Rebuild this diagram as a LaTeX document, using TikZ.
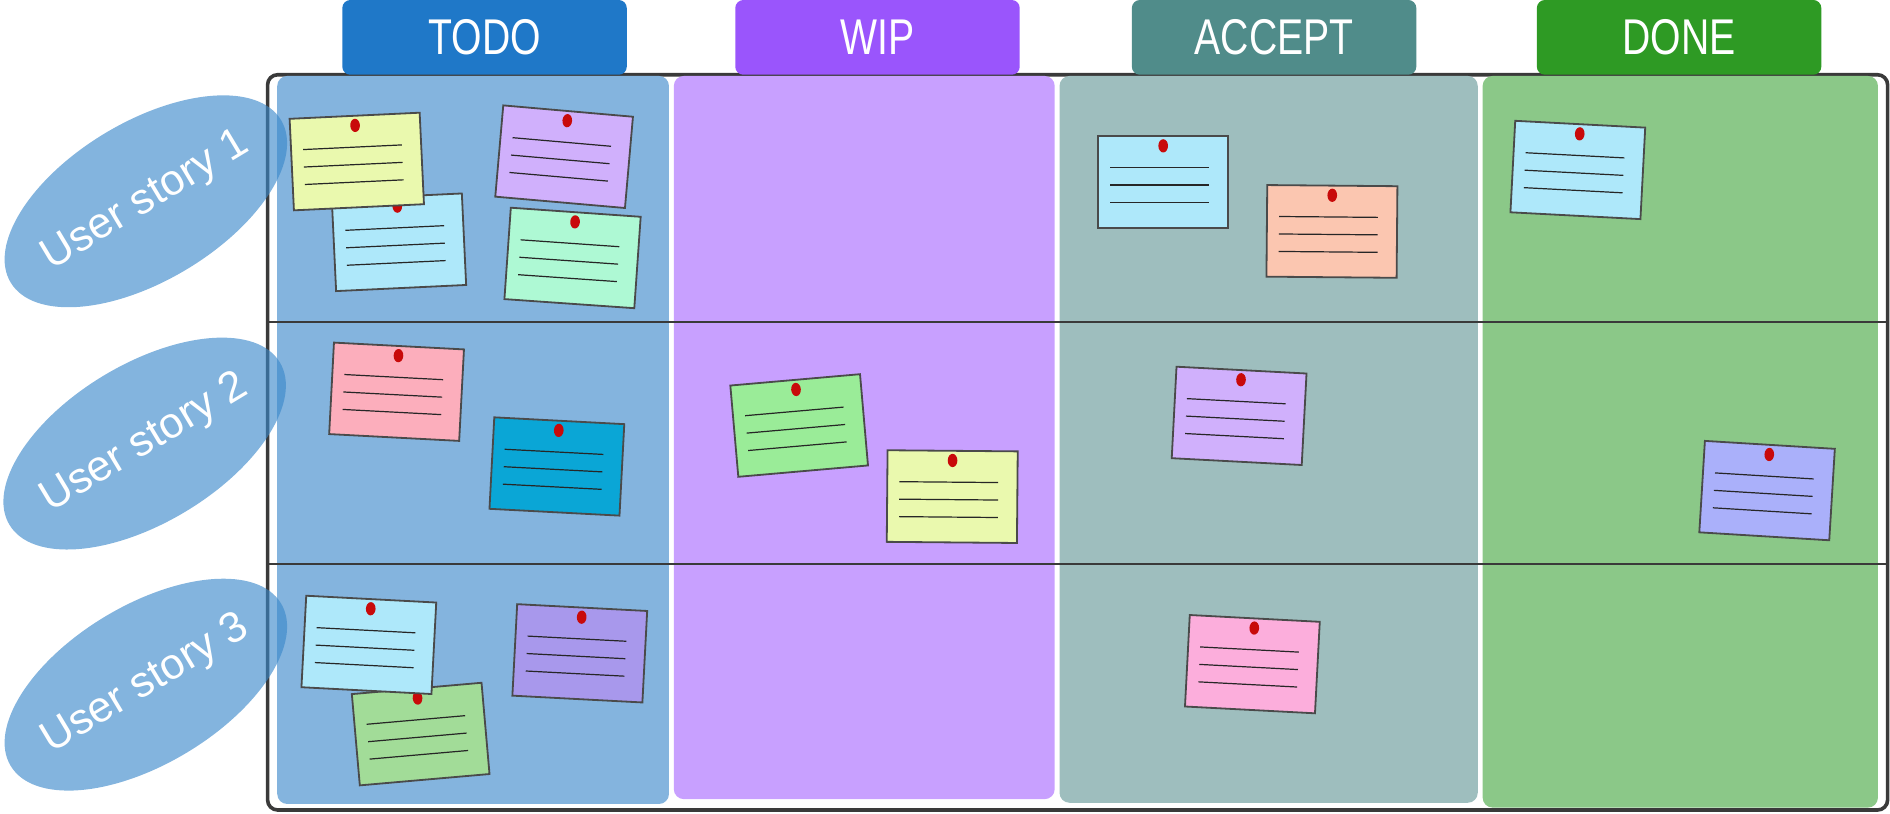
\documentclass[tikz,border=0pt]{standalone}
\usepackage{fontspec}
\setmainfont{Liberation Sans}
\usetikzlibrary{shapes.geometric}

\definecolor{boardgray}{HTML}{3A3A3A}
\definecolor{todohead}{HTML}{1F78C8}
\definecolor{wiphead}{HTML}{9A55FC}
\definecolor{accepthead}{HTML}{508C8A}
\definecolor{donehead}{HTML}{2E9A24}
\definecolor{todocol}{HTML}{84B4DE}
\definecolor{wipcol}{HTML}{C8A0FF}
\definecolor{acceptcol}{HTML}{9EBEBE}
\definecolor{donecol}{HTML}{8BC888}
\definecolor{storyblue}{RGB}{59,136,202}
\definecolor{pinred}{HTML}{C80A0A}
\definecolor{notegray}{HTML}{4A4A4A}
\definecolor{lemon}{HTML}{EAF9AE}
\definecolor{skyblue}{HTML}{AEE8FA}
\definecolor{lilac}{HTML}{D0B0FC}
\definecolor{mint}{HTML}{AEF9D4}
\definecolor{salmon}{HTML}{FBC6B0}
\definecolor{blush}{HTML}{FCAEBC}
\definecolor{notecyan}{HTML}{0AA6D6}
\definecolor{leaf}{HTML}{9AEC98}
\definecolor{periwinkle}{HTML}{AAB0FA}
\definecolor{sage}{HTML}{A2DC98}
\definecolor{violet}{HTML}{A898EC}
\definecolor{rose}{HTML}{FCAEDC}

\tikzset{
  board/.style={draw=boardgray, line width=1.8pt, rounded corners=5pt},
  column/.style={rounded corners=5pt},
  rowline/.style={draw=boardgray, line width=0.9pt},
  tab/.style={rounded corners=4pt, text=white, inner sep=0pt,
    minimum width=141.6pt, minimum height=37.2pt,
    font=\fontsize{25}{30}\selectfont},
  note/.style={draw=notegray, line width=0.9pt, transform shape, inner sep=0pt,
    minimum width=64.8pt, minimum height=45.6pt},
  noteline/.style={line width=0.6pt, black!85},
  storyoval/.style={ellipse, fill=storyblue, fill opacity=0.63, inner sep=0pt,
    minimum width=157pt, minimum height=79pt},
  storytext/.style={text=white, inner sep=0pt,
    font=\fontsize{21.5}{25}\selectfont}
}

% sticky note: name, x, y, angle, colour
\newcommand{\sticky}[5]{%
  \begin{scope}[shift={(#2,#3)},rotate=#4]
    \node[note,fill=#5] (#1) at (0,0) {};
    \foreach \ly in {-12,2.5,17}
      \draw[noteline] (-44,\ly) -- (38,\ly);
    \fill[pinred] (0,-30) ellipse (4 and 5.5);
  \end{scope}}

\newcommand{\headtext}[1]{\scalebox{0.78}[1]{#1}}

\begin{document}
\begin{tikzpicture}[x=0.6pt,y=-0.6pt]
  \useasboundingbox (0,0) rectangle (1568,675);
  %board
  \draw[board] (222,62) rectangle (1566,672);
  %columns
  \fill[column,todocol] (230,63) rectangle (555,667);
  \fill[column,wipcol] (559,63) rectangle (875,663);
  \fill[column,acceptcol] (879,63) rectangle (1226,666);
  \fill[column,donecol] (1230,63) rectangle (1558,670);
  %rows
  \draw[rowline] (222,267) -- (1566,267);
  \draw[rowline] (222,468) -- (1566,468);
  %headers
  \node[tab,fill=todohead] (todo) at (402,31) {\headtext{TODO}};
  \node[tab,fill=wiphead] (wip) at (728,31) {\headtext{WIP}};
  \node[tab,fill=accepthead] (accept) at (1057,31) {\headtext{ACCEPT}};
  \node[tab,fill=donehead] (done) at (1393,31) {\headtext{DONE}};
  %notes, story 1
  \sticky{tblue}{331}{201}{2.7}{skyblue}
  \sticky{tyellow}{296}{134}{2.7}{lemon}
  \sticky{tlilac}{468}{130}{-5}{lilac}
  \sticky{tmint}{475}{214}{-4}{mint}
  \sticky{ablue}{965}{151}{0}{skyblue}
  \sticky{asalmon}{1105}{192}{-0.5}{salmon}
  \sticky{dblue}{1309}{141}{-3}{skyblue}
  %notes, story 2
  \sticky{tpink}{329}{325}{-3}{blush}
  \sticky{tcyan}{462}{387}{-3}{notecyan}
  \sticky{wgreen}{663}{353}{5}{leaf}
  \sticky{wyellow}{790}{412}{-0.5}{lemon}
  \sticky{alilac}{1028}{345}{-3}{lilac}
  \sticky{dperi}{1466}{407}{-3.5}{periwinkle}
  %notes, story 3
  \sticky{tgreen}{349}{609}{5}{sage}
  \sticky{tblue2}{306}{535}{-3}{skyblue}
  \sticky{tpurple}{481}{542}{-3}{violet}
  \sticky{arose}{1039}{551}{-3}{rose}
  %stories
  \node[storyoval,rotate=31] (story1) at (121,167) {};
  \node[storyoval,rotate=31] (story2) at (120,368) {};
  \node[storyoval,rotate=31] (story3) at (121,568) {};
  \node[storytext,rotate=31] (story1text) at (story1) {User story 1};
  \node[storytext,rotate=31] (story2text) at (story2) {User story 2};
  \node[storytext,rotate=31] (story3text) at (story3) {User story 3};
\end{tikzpicture}
\end{document}
